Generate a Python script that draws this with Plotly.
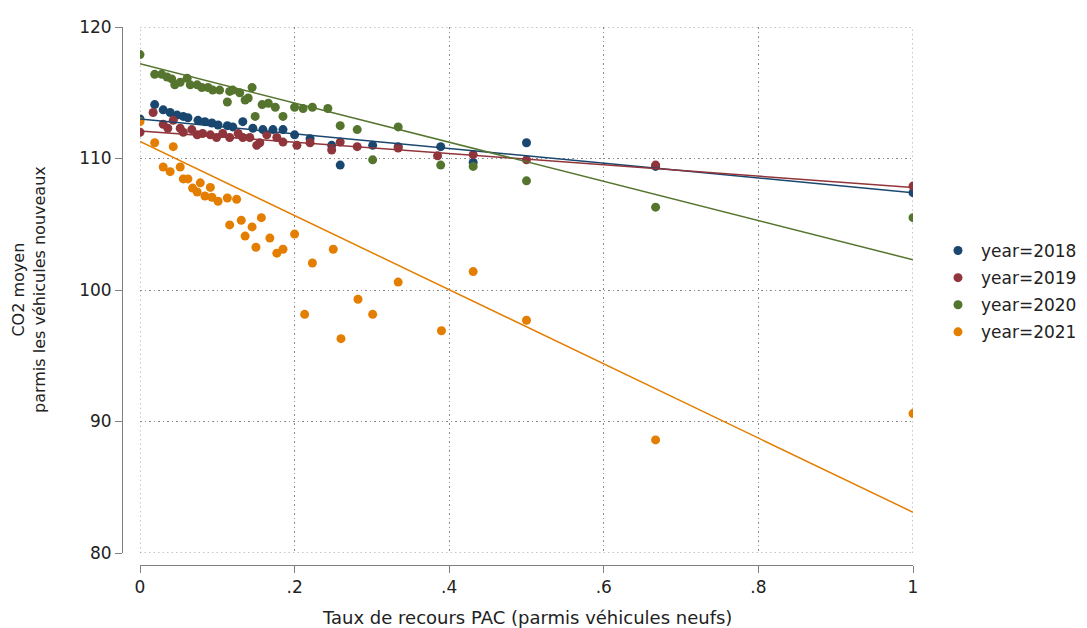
import plotly.graph_objects as go

# ---- data ----
years = ["2018", "2019", "2020", "2021"]
colors = ["#1a476f", "#90353b", "#55752f", "#e37e00"]

x_2018 = [0.0, 0.019, 0.030, 0.039, 0.048, 0.056, 0.062, 0.075, 0.084, 0.093, 0.101, 0.113,
          0.120, 0.133, 0.146, 0.159, 0.172, 0.185, 0.200, 0.220, 0.248, 0.259, 0.301, 0.334,
          0.389, 0.431, 0.500, 0.667, 1.0]
y_2018 = [113.0, 114.1, 113.7, 113.5, 113.3, 113.2, 113.1, 112.9, 112.8, 112.7, 112.55, 112.5,
          112.4, 112.8, 112.3, 112.2, 112.2, 112.2, 111.8, 111.5, 111.0, 109.5, 111.0, 110.9,
          110.9, 109.7, 111.2, 109.4, 107.4]

x_2019 = [0.0, 0.017, 0.030, 0.036, 0.043, 0.052, 0.056, 0.067, 0.074, 0.081, 0.091, 0.099,
          0.107, 0.116, 0.127, 0.133, 0.142, 0.151, 0.155, 0.164, 0.177, 0.185, 0.203, 0.220,
          0.248, 0.259, 0.281, 0.334, 0.385, 0.431, 0.500, 0.667, 1.0]
y_2019 = [112.0, 113.5, 112.6, 112.3, 112.9, 112.3, 112.0, 112.2, 111.8, 111.9, 111.8, 111.6,
          111.9, 111.6, 111.9, 111.6, 111.6, 111.0, 111.2, 111.8, 111.6, 111.25, 111.0, 111.2,
          110.65, 111.25, 110.9, 110.8, 110.2, 110.3, 109.9, 109.5, 107.9]

x_2020 = [0.0, 0.019, 0.028, 0.035, 0.041, 0.045, 0.052, 0.061, 0.065, 0.074, 0.080, 0.088,
          0.094, 0.103, 0.113, 0.116, 0.120, 0.129, 0.136, 0.140, 0.145, 0.149, 0.158, 0.166,
          0.175, 0.185, 0.200, 0.211, 0.223, 0.243, 0.259, 0.281, 0.301, 0.334, 0.389, 0.431,
          0.500, 0.667, 1.0]
y_2020 = [117.9, 116.4, 116.4, 116.2, 116.05, 115.6, 115.8, 116.1, 115.6, 115.6, 115.4, 115.4,
          115.2, 115.2, 114.3, 115.1, 115.2, 115.0, 114.45, 114.6, 115.4, 113.2, 114.1, 114.2,
          113.9, 113.2, 113.9, 113.8, 113.9, 113.8, 112.5, 112.2, 109.9, 112.4, 109.5, 109.4,
          108.3, 106.3, 105.5]

x_2021 = [0.0, 0.019, 0.030, 0.039, 0.043, 0.052, 0.056, 0.062, 0.068, 0.074, 0.078, 0.084,
          0.091, 0.093, 0.101, 0.113, 0.125, 0.116, 0.131, 0.136, 0.145, 0.150, 0.157, 0.168,
          0.177, 0.185, 0.200, 0.213, 0.223, 0.250, 0.260, 0.282, 0.301, 0.334, 0.390, 0.431,
          0.500, 0.667, 1.0]
y_2021 = [112.8, 111.2, 109.35, 109.0, 110.9, 109.35, 108.45, 108.45, 107.75, 107.45, 108.15, 107.15,
          107.8, 107.05, 106.75, 107.0, 106.9, 104.95, 105.3, 104.1, 104.8, 103.25, 105.5, 103.95,
          102.8, 103.1, 104.25, 98.15, 102.05, 103.1, 96.3, 99.3, 98.15, 100.6, 96.9, 101.4,
          97.7, 88.6, 90.6]

# linear fits: value at x=0 and x=1
fit_x = [0.0, 1.0]
fit_2018 = [113.0, 107.4]
fit_2019 = [112.1, 107.8]
fit_2020 = [117.2, 102.3]
fit_2021 = [111.3, 83.1]

x_ticks = [0, 0.2, 0.4, 0.6, 0.8, 1.0]
x_ticktext = ["0", ".2", ".4", ".6", ".8", "1"]
y_ticks = [80, 90, 100, 110, 120]

xs = [x_2018, x_2019, x_2020, x_2021]
ys = [y_2018, y_2019, y_2020, y_2021]
fits = [fit_2018, fit_2019, fit_2020, fit_2021]

FONT = "DejaVu Sans"
GRID = "#8c8c8c"
DASH = "1.5px,3px"
fig = go.Figure()

for yr, c, xv, yv in zip(years, colors, xs, ys):
    fig.add_trace(go.Scatter(x=xv, y=yv, mode="markers", name=f"year={yr}",
                             legendgroup=yr,
                             marker=dict(color=c, size=9, line=dict(width=0))))
for yr, c, fv in zip(years, colors, fits):
    fig.add_trace(go.Scatter(x=fit_x, y=fv, mode="lines", showlegend=False,
                             legendgroup=yr, line=dict(color=c, width=1.5)))

axis_common = dict(showgrid=True, gridcolor=GRID, griddash=DASH, gridwidth=1,
                   zeroline=False, showline=True, linecolor="#808080", linewidth=1,
                   ticks="outside", ticklen=7, tickcolor="#808080", automargin=False,
                   tickfont=dict(family=FONT, size=17, color="#222222"))

# dotted grid lines on the border ticks (plotly omits them at the range edges)
shapes = []
for xv in (x_ticks[0], x_ticks[-1]):
    shapes.append(dict(type="line", xref="x", yref="y", x0=xv, x1=xv,
                       y0=y_ticks[0], y1=y_ticks[-1], layer="below",
                       line=dict(color=GRID, width=1, dash=DASH)))
for yv in (y_ticks[0], y_ticks[-1]):
    shapes.append(dict(type="line", xref="x", yref="y", x0=x_ticks[0], x1=x_ticks[-1],
                       y0=yv, y1=yv, layer="below",
                       line=dict(color=GRID, width=1, dash=DASH)))

fig.update_layout(
    width=1087, height=628,
    margin=dict(l=0, r=0, t=0, b=0, autoexpand=False),
    paper_bgcolor="white", plot_bgcolor="white",
    xaxis=dict(domain=[140/1087, 913/1087], range=[0, 1], anchor="free",
               position=1-565/628, tickvals=x_ticks, ticktext=x_ticktext, **axis_common),
    yaxis=dict(domain=[1-553/628, 1-27/628], range=[80, 120], anchor="free",
               position=122/1087, tickvals=y_ticks, **axis_common),
    legend=dict(x=935/1087, y=1-233/628, xanchor="left", yanchor="top",
                font=dict(family=FONT, size=17, color="#222222"),
                bgcolor="rgba(0,0,0,0)", itemwidth=36, tracegroupgap=2),
    shapes=shapes,
    annotations=[
        dict(text="Taux de recours PAC (parmis véhicules neufs)", xref="paper", yref="paper",
             x=527/1087, y=1-617/628, showarrow=False, xanchor="center", yanchor="middle",
             font=dict(family=FONT, size=18, color="#222222")),
        dict(text="CO2 moyen<br>parmis les véhicules nouveaux", xref="paper", yref="paper",
             x=29/1087, y=1-290/628, showarrow=False, textangle=-90,
             xanchor="center", yanchor="middle",
             font=dict(family=FONT, size=16, color="#222222")),
    ],
)

fig.write_html("out.html", config={"displayModeBar": False},
               post_script="document.body.style.margin='0';document.body.style.padding='0';"
                           "document.body.style.overflow='hidden';")
